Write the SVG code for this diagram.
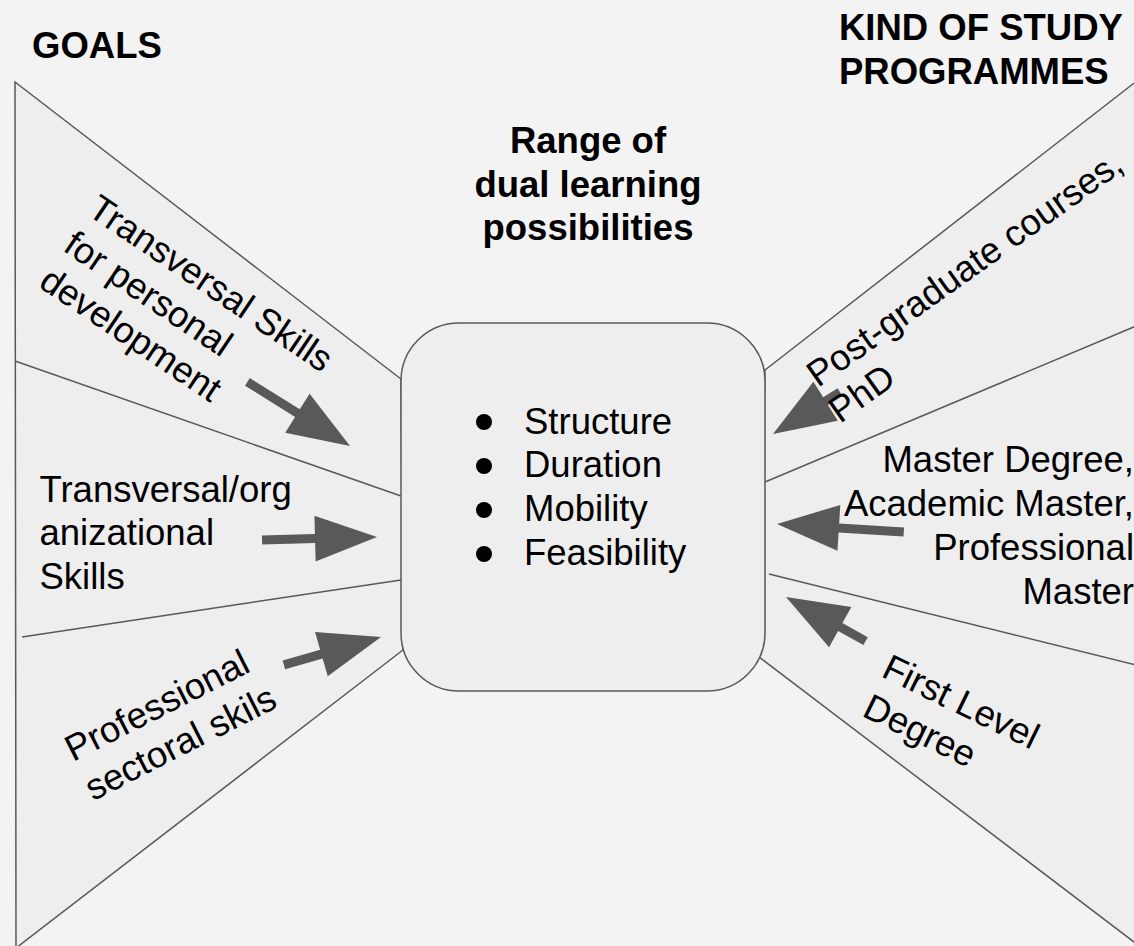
<svg xmlns="http://www.w3.org/2000/svg" width="1134" height="946" viewBox="0 0 1134 946">
<style>
.bg{fill:#f3f3f3}
.wedge{fill:#eeeeee;stroke:#595959;stroke-width:1.5}
.div{stroke:#595959;stroke-width:1.5;fill:none}
.box{fill:#eeeeee;stroke:#595959;stroke-width:1.5}
.arrow{fill:#595959}
text{font-family:"Liberation Sans",Arial,sans-serif;font-size:36.5px;fill:#000}
.b{font-weight:bold}
</style>
<defs>
<path id="ah" d="M0,0 L-62,-23 L-62,-4.5 L-200,-4.5 L-200,4.5 L-62,4.5 L-62,23 Z"/>
</defs>
<rect class="bg" x="0" y="0" width="1134" height="946"/>
<g id="goals-fan">
<polygon class="wedge" points="15,82 401,379 403,650 16,948"/>
</g>
<g id="programmes-fan">
<polygon class="wedge" points="765,370 1138,80 1138,945 759,657"/>
</g>
<g id="connectors">
<line class="div" x1="15" y1="361" x2="401" y2="496"/>
<line class="div" x1="22" y1="637" x2="401" y2="580"/>
<line class="div" x1="765" y1="482" x2="1136" y2="326"/>
<line class="div" x1="769" y1="574" x2="1136" y2="665"/>
<path class="arrow" transform="translate(350,446) rotate(32)" d="M0,0 L-62,-23 L-62,-4.5 L-121,-4.5 L-121,4.5 L-62,4.5 L-62,23 Z"/>
<path class="arrow" transform="translate(377,537) rotate(-1.5)" d="M0,0 L-62,-23 L-62,-4.5 L-115,-4.5 L-115,4.5 L-62,4.5 L-62,23 Z"/>
<path class="arrow" transform="translate(381,637) rotate(-16)" d="M0,0 L-62,-23 L-62,-4.5 L-101,-4.5 L-101,4.5 L-62,4.5 L-62,23 Z"/>
<path class="arrow" transform="translate(773,434) rotate(148)" d="M0,0 L-62,-23 L-62,-4.5 L-79,-4.5 L-79,4.5 L-62,4.5 L-62,23 Z"/>
<path class="arrow" transform="translate(777,524) rotate(183.6)" d="M0,0 L-62,-23 L-62,-4.5 L-127,-4.5 L-127,4.5 L-62,4.5 L-62,23 Z"/>
<path class="arrow" transform="translate(786,597) rotate(209)" d="M0,0 L-62,-23 L-62,-4.5 L-91,-4.5 L-91,4.5 L-62,4.5 L-62,23 Z"/>
</g>
<g id="center">
<rect class="box" x="401" y="323" width="364" height="368" rx="58" ry="58"/>
<circle cx="484" cy="422" r="8" fill="#000"/>
<circle cx="484" cy="466" r="8" fill="#000"/>
<circle cx="484" cy="510" r="8" fill="#000"/>
<circle cx="484" cy="554" r="8" fill="#000"/>
<text x="524" y="433.5">Structure</text>
<text x="524" y="477">Duration</text>
<text x="524" y="521">Mobility</text>
<text x="524" y="565">Feasibility</text>
</g>
<g id="title">
<text class="b" text-anchor="middle" x="588" y="153">Range of</text>
<text class="b" text-anchor="middle" x="588" y="196.5">dual learning</text>
<text class="b" text-anchor="middle" x="588" y="240">possibilities</text>
</g>
<g id="goals-heading">
<text class="b" x="32" y="57.5">GOALS</text>
</g>
<g id="programmes-heading">
<text class="b" x="839" y="39.5">KIND OF STUDY</text>
<text class="b" x="839" y="83.5">PROGRAMMES</text>
</g>
<g id="goal-personal">
<text transform="translate(86,214) rotate(34)"><tspan x="0" y="0">Transversal Skills</tspan><tspan x="0" y="43.5">for personal</tspan><tspan x="0" y="87">development</tspan></text>
</g>
<g id="goal-organizational">
<text x="39.5" y="501.5">Transversal/org</text>
<text x="39.5" y="545">anizational</text>
<text x="39.5" y="588.5">Skills</text>
</g>
<g id="goal-professional">
<text transform="translate(73,762) rotate(-27)"><tspan x="0" y="0">Professional</tspan><tspan x="0" y="44">sectoral skils</tspan></text>
</g>
<g id="prog-postgrad">
<text transform="translate(818,388) rotate(-35.4)"><tspan x="0" y="0">Post-graduate courses,</tspan><tspan x="-3" y="42">PhD</tspan></text>
</g>
<g id="prog-master">
<text text-anchor="end" x="1134" y="471.5">Master Degree,</text>
<text text-anchor="end" x="1134" y="515.5">Academic Master,</text>
<text text-anchor="end" x="1134" y="559.5">Professional</text>
<text text-anchor="end" x="1134" y="603.5">Master</text>
</g>
<g id="prog-first">
<text transform="translate(880,676) rotate(26)"><tspan x="0" y="0">First Level</tspan><tspan x="0" y="44">Degree</tspan></text>
</g>
</svg>
